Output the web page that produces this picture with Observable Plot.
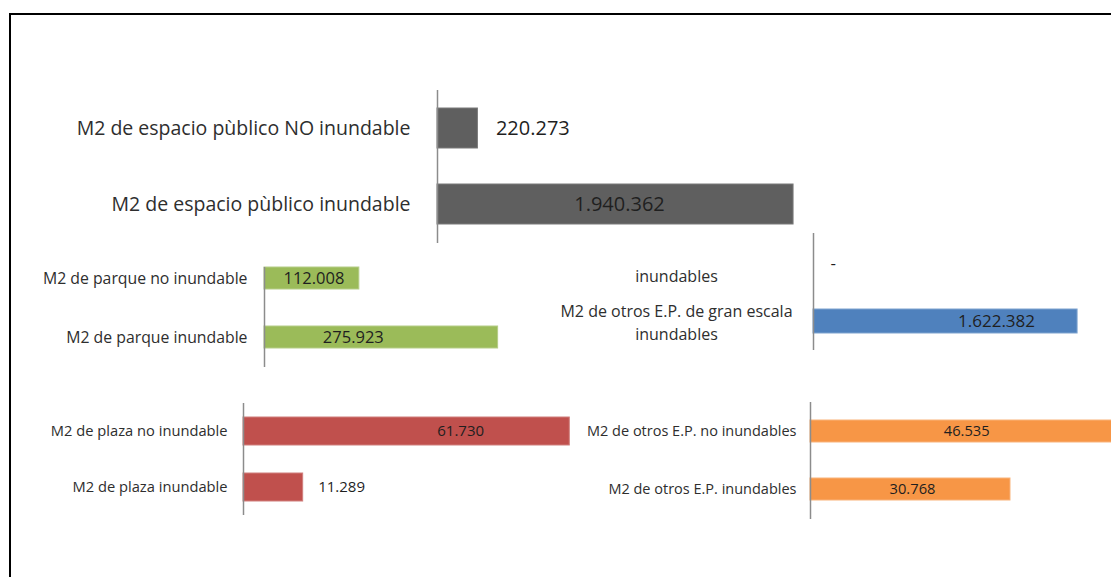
<!DOCTYPE html>
<html>
<head>
<meta charset="utf-8">
<script src="https://cdn.jsdelivr.net/npm/d3@7"></script>
<script src="https://cdn.jsdelivr.net/npm/@observablehq/plot@0.6"></script>
<style>
  html, body { margin: 0; padding: 0; background: #fff; }
  #root { position: relative; width: 1111px; height: 577px; overflow: hidden; background: #fff; font-family: "Open Sans", sans-serif; }
  #frame { position: absolute; left: 9px; top: 13px; width: 1200px; height: 700px; border-top: 2px solid #000; border-left: 2px solid #000; box-sizing: border-box; }
  #root svg { position: absolute; overflow: visible; }
</style>
</head>
<body>
<div id="root"><div id="frame"></div></div>
<script>
// ---- data ----
const espacioCategorias = ["M2 de espacio pùblico NO inundable", "M2 de espacio pùblico inundable"];
const espacioValores = [220273, 1940362];

const parqueCategorias = ["M2 de parque no inundable", "M2 de parque inundable"];
const parqueValores = [112008, 275923];

const plazaCategorias = ["M2 de plaza no inundable", "M2 de plaza inundable"];
const plazaValores = [61730, 11289];

const granEscalaCategorias = ["\ninundables", "M2 de otros E.P. de gran escala\ninundables"];
const granEscalaValores = [0, 1622382];

const otrosCategorias = ["M2 de otros E.P. no inundables", "M2 de otros E.P. inundables"];
const otrosValores = [46535, 30768];

// ---- formatting ----
const fmt = d3.formatLocale({decimal: ",", thousands: ".", grouping: [3], currency: ["", ""]}).format(",d");
const valueText = v => v === 0 ? "-" : fmt(v);

// ---- panel layout / style ----
const panels = [
  {cats: espacioCategorias, vals: espacioValores, color: "#5f5f5f", edge: "#7a7a7a",
   left: 40, top: 90, height: 153, marginLeft: 397, plotWidth: 367, xMax: 2000000,
   pad: 0.47, axisFont: 19.5, axisPad: 27, valueFont: 20,
   labels: [{mode: "outside", dx: 18}, {mode: "center", dx: 4}]},
  {cats: parqueCategorias, vals: parqueValores, color: "#9bbb59", edge: "#b5cd88",
   left: 20, top: 267, height: 100, yRange: [-18, 100], marginLeft: 244, plotWidth: 254, xMax: 300000,
   pad: 0.627, axisFont: 15.8, axisPad: 17, valueFont: 16.5,
   labels: [{mode: "center", dx: 2}, {mode: "center", dx: -28}]},
  {cats: plazaCategorias, vals: plazaValores, color: "#c0504d", edge: "#d07e7c",
   left: 20, top: 403, height: 112, marginLeft: 223, plotWidth: 370, xMax: 70000,
   pad: 0.5, axisFont: 14.7, axisPad: 16, valueFont: 15,
   labels: [{mode: "center", dx: 54}, {mode: "outside", dx: 15}]},
  {cats: granEscalaCategorias, vals: granEscalaValores, color: "#4f81bd", edge: "#7fa3cf",
   left: 540, top: 233, height: 117, marginLeft: 273, plotWidth: 293, xMax: 1800000,
   pad: 0.59, axisFont: 16, axisPad: 137, axisAnchor: "middle", lineHeight: 1.4, valueFont: 17,
   labels: [{mode: "outside", dx: 17}, {mode: "center", dx: 51}]},
  {cats: otrosCategorias, vals: otrosValores, color: "#f79646", edge: "#f9b37a",
   left: 560, top: 402, height: 117, marginLeft: 250, plotWidth: 325, xMax: 50000,
   pad: 0.615, axisFont: 14.5, axisPad: 14, valueFont: 14.7,
   labels: [{mode: "center", dx: 5}, {mode: "center", dx: 2}]}
];

const root = document.getElementById("root");

for (const p of panels) {
  const rows = p.cats.map((c, i) => ({category: c, value: p.vals[i]}));
  const axisOpts = {tickSize: 0, tickPadding: p.axisPad, fontSize: p.axisFont, fill: "#2e2e2e"};
  if (p.axisAnchor) axisOpts.textAnchor = p.axisAnchor;
  if (p.lineHeight) axisOpts.lineHeight = p.lineHeight;
  const marks = [
    Plot.barX(rows, {y: "category", x: "value", fill: p.color, stroke: p.edge, strokeWidth: 1}),
    Plot.ruleX([0], {stroke: "#8c8c8c", strokeWidth: 1.5}),
    Plot.axisY(axisOpts)
  ];
  rows.forEach((r, i) => {
    const lab = p.labels[i];
    marks.push(Plot.text([r], {
      y: "category",
      x: d => lab.mode === "center" ? d.value / 2 : d.value,
      text: d => valueText(d.value),
      textAnchor: lab.mode === "center" ? "middle" : "start",
      dx: lab.dx,
      fontSize: p.valueFont,
      fill: "#1f1f1f"
    }));
  });
  const yOpts = {domain: p.cats, label: null, paddingInner: p.pad, paddingOuter: p.pad / 2};
  if (p.yRange) yOpts.range = p.yRange;
  const svg = Plot.plot({
    width: p.marginLeft + p.plotWidth,
    height: p.height,
    marginLeft: p.marginLeft,
    marginRight: 0,
    marginTop: 0,
    marginBottom: 0,
    x: {domain: [0, p.xMax], axis: null},
    y: yOpts,
    style: {background: "transparent", fontFamily: "'Open Sans', sans-serif", overflow: "visible", maxWidth: "none"},
    marks
  });
  svg.style.left = p.left + "px";
  svg.style.top = p.top + "px";
  root.appendChild(svg);
}
</script>
</body>
</html>
